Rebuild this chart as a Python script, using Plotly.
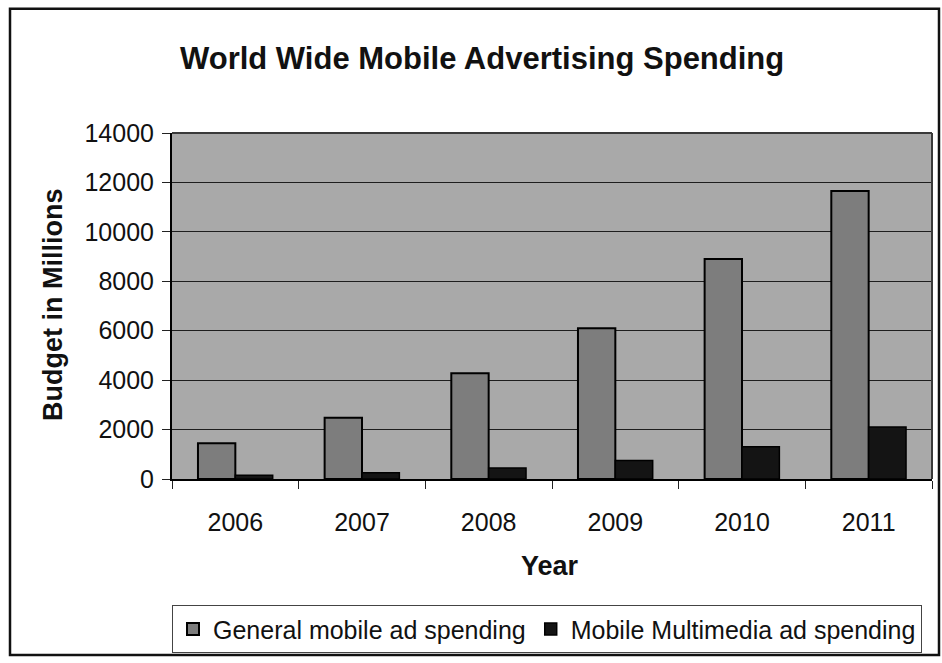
import plotly.graph_objects as go

# Spending data (USD millions)
years = ["2006", "2007", "2008", "2009", "2010", "2011"]
general_spending = [1450, 2480, 4280, 6100, 8900, 11650]
multimedia_spending = [150, 250, 450, 750, 1300, 2100]
y_ticks = [0, 2000, 4000, 6000, 8000, 10000, 12000, 14000]

FONT = "Liberation Sans, Arial, sans-serif"
W, H = 942, 663
L, R, T, B = 172, 10, 133, 182
PW, PH = W - L - R, H - T - B


def px(x):
    return (x - L) / PW


def py(y):
    return (H - B - y) / PH


fig = go.Figure()
fig.add_trace(go.Bar(
    x=years, y=general_spending, name="General mobile ad spending",
    marker=dict(color="#7d7d7d", line=dict(color="#000000", width=2)),
))
fig.add_trace(go.Bar(
    x=years, y=multimedia_spending, name="Mobile Multimedia ad spending",
    marker=dict(color="#141414", line=dict(color="#000000", width=1.5)),
))

fig.update_layout(
    width=W, height=H,
    margin=dict(l=L, r=R, t=T, b=B),
    paper_bgcolor="white",
    plot_bgcolor="#a9a9a9",
    font=dict(family=FONT, size=25, color="#111"),
    barmode="group", bargap=0.41, bargroupgap=0,
    showlegend=True,
    legend=dict(
        orientation="h", x=px(547), xanchor="center",
        y=py(632), yanchor="middle",
        font=dict(size=25, family=FONT, color="#111"),
        bordercolor="#444", borderwidth=1, bgcolor="white",
        itemwidth=30, traceorder="normal",
    ),
)

fig.update_xaxes(
    type="category", tickson="boundaries",
    ticks="outside", ticklen=8, tickcolor="#222", tickwidth=1,
    showline=True, linecolor="#000", linewidth=2, mirror=False,
    showgrid=False, ticklabelstandoff=20,
    tickfont=dict(size=25, family=FONT, color="#111"),
)
fig.update_yaxes(
    range=[0, 14000], tickvals=y_ticks, tickformat="d",
    ticks="outside", ticklen=8, tickcolor="#222", tickwidth=1,
    showline=True, linecolor="#000", linewidth=2,
    showgrid=True, gridcolor="#1e1e1e", gridwidth=1,
    zeroline=False, ticklabelstandoff=3,
    tickfont=dict(size=25, family=FONT, color="#111"),
)

shapes = [
    # plot area frame (top and right edges)
    dict(type="line", xref="paper", yref="paper", x0=0, x1=1, y0=1, y1=1,
         line=dict(color="#3a3a3a", width=2)),
    dict(type="line", xref="paper", yref="paper", x0=1, x1=1, y0=0, y1=1,
         line=dict(color="#3a3a3a", width=2)),
    # outer chart border
    dict(type="rect", xref="paper", yref="paper",
         x0=px(10), x1=px(939), y0=py(658), y1=py(8),
         line=dict(color="#111", width=2.5), layer="below"),
]
fig.update_layout(shapes=shapes)

annotations = [
    dict(text="<b>World Wide Mobile Advertising Spending</b>",
         x=px(482), y=py(58), xref="paper", yref="paper",
         showarrow=False, font=dict(size=31, family=FONT, color="#111"),
         xanchor="center", yanchor="middle"),
    dict(text="<b>Budget in Millions</b>",
         x=px(53), y=py(306), xref="paper", yref="paper", textangle=-90,
         showarrow=False, font=dict(size=27, family=FONT, color="#111"),
         xanchor="center", yanchor="middle"),
    dict(text="<b>Year</b>",
         x=px(550), y=py(568), xref="paper", yref="paper",
         showarrow=False, font=dict(size=27, family=FONT, color="#111"),
         xanchor="center", yanchor="middle"),
]
fig.update_layout(annotations=annotations)

fig.write_html("out.html")
